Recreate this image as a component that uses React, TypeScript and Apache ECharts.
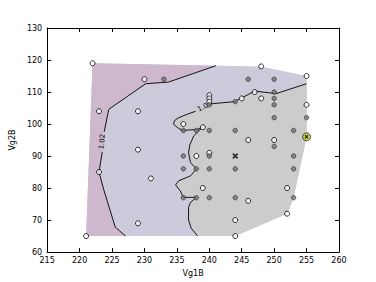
import React, { useEffect, useRef } from "react";
import * as echarts from "echarts";

// Data-space geometry
const hull: number[][] = [[221, 65], [244, 65], [252, 72], [253, 77], [255, 96], [255, 115], [248, 118], [222, 119]];

const c102Lower: number[][] = [[227.1, 65], [225.5, 67.8], [223.7, 79.7], [223, 85], [223.5, 91.3]];
const c102Upper: number[][] = [[223.8, 97.6], [224.5, 104.6], [230.2, 112.6], [233.7, 113.1], [241, 118.2]];

const c100Lower: number[][] = [
  [238.2, 65], [237.2, 67.5], [236.8, 70], [236.8, 74], [237.1, 75.5], [238, 77.1], [236, 77.1],
  [235.5, 79.2], [234.8, 81], [235.3, 82.3], [237.1, 83.8], [238, 86], [237.1, 88], [236.8, 91],
  [237, 93.5], [237.6, 96.3], [239, 99.1], [238.2, 98.3], [235.8, 98], [235.1, 98.9], [234.5, 99.9],
  [234.6, 101], [235.2, 101.9], [236.5, 103], [237.9, 104],
];
const c100Upper: number[][] = [[240.2, 106.3], [243.9, 107], [247, 110.3], [250.3, 109.5], [255, 112.6]];
const grayEdge: number[][] = [[255, 96], [253, 77], [252, 72], [244, 65]];

const openPts: number[][] = [
  [222, 119], [230, 114], [223, 104], [229, 104], [240, 109], [240, 108], [240, 107], [245, 108],
  [247, 110], [248, 118], [255, 115], [248, 108], [255, 106], [236, 100], [239, 99], [246, 95],
  [250, 95], [229, 92], [240, 91], [238, 90], [223, 85], [231, 83], [239, 80], [252, 80], [246, 76],
  [252, 72], [229, 69], [244, 70], [244, 65], [221, 65],
];
const filledPts: number[][] = [
  [233, 114], [246, 114], [250, 114], [244, 107], [240, 106], [250, 110], [250, 108], [250, 106],
  [250, 102], [255, 102], [236, 98], [238, 98], [240, 98], [244, 98], [253, 98], [250, 93],
  [236, 90], [240, 90], [253, 90], [236, 86], [238, 86], [240, 86], [244, 86], [253, 86],
  [236, 77], [238, 77], [240, 77], [244, 77], [253, 77],
];
const crossPt: number[][] = [[244, 90]];
const bestPt: number[][] = [[255, 96]];

const labels = [
  { text: "1.0", at: [239, 105.2], rot: 0.46 },
  { text: "1.02", at: [223.5, 94.5], rot: 1.48 },
];

const xTicks = { min: 215, max: 260, interval: 5 };
const yTicks = { min: 60, max: 130, interval: 10 };

const PINK = "#cdb8cd";
const LAV = "#cdcadb";
const GRAY = "#cccccc";
const FONT = "DejaVu Sans";
const X_PATH = "path://M0,2L2,0L5,3L8,0L10,2L7,5L10,8L8,10L5,7L2,10L0,8L3,5Z";

export default function App() {
  const ref = useRef<HTMLDivElement>(null);
  useEffect(() => {
    if (!ref.current) return;
    const chart = echarts.init(ref.current, null, { renderer: "svg" });
    const pinkPoly = [[221, 65], ...c102Lower, ...c102Upper, [222, 119]];
    const grayPoly = [...c100Lower, ...c100Upper, ...grayEdge];
    const axisCommon = {
      type: "value" as const,
      axisLine: { show: true, lineStyle: { color: "#000", width: 1 } },
      axisTick: { show: true, inside: true, length: 4, lineStyle: { color: "#000" } },
      splitLine: { show: false },
    };
    chart.setOption({
      animation: false,
      grid: { left: 47, right: 37, top: 28, bottom: 29, containLabel: false },
      xAxis: [
        {
          ...axisCommon, position: "bottom", min: xTicks.min, max: xTicks.max, interval: xTicks.interval,
          axisLabel: { color: "#000", fontFamily: FONT, fontSize: 8, margin: 4 },
          name: "Vg1B", nameLocation: "middle", nameGap: 13,
          nameTextStyle: { color: "#000", fontFamily: FONT, fontSize: 8 },
        },
        {
          ...axisCommon, position: "top", min: xTicks.min, max: xTicks.max, interval: xTicks.interval,
          axisLabel: { show: false },
        },
      ],
      yAxis: [
        {
          ...axisCommon, position: "left", min: yTicks.min, max: yTicks.max, interval: yTicks.interval,
          axisLabel: { color: "#000", fontFamily: FONT, fontSize: 8, margin: 5 },
          name: "Vg2B", nameLocation: "middle", nameGap: 22,
          nameTextStyle: { color: "#000", fontFamily: FONT, fontSize: 8 },
        },
        {
          ...axisCommon, position: "right", min: yTicks.min, max: yTicks.max, interval: yTicks.interval,
          axisLabel: { show: false },
        },
      ],
      series: [
        {
          type: "custom",
          coordinateSystem: "cartesian2d",
          silent: true,
          z: 1,
          data: [[240, 90]],
          renderItem: (_p: any, api: any) => {
            const toPts = (arr: number[][]) => arr.map((d) => api.coord(d));
            return {
              type: "group",
              children: [
                { type: "polygon", shape: { points: toPts(hull) }, style: { fill: LAV, stroke: "none" } },
                { type: "polygon", shape: { points: toPts(pinkPoly) }, style: { fill: PINK, stroke: "none" } },
                { type: "polygon", shape: { points: toPts(grayPoly) }, style: { fill: GRAY, stroke: "none" } },
              ],
            };
          },
        },
        ...[c102Lower, c102Upper, c100Lower, c100Upper].map((seg) => ({
          type: "line",
          data: seg,
          showSymbol: false,
          silent: true,
          z: 2,
          lineStyle: { color: "#000", width: 0.9 },
        })),
        {
          type: "custom",
          coordinateSystem: "cartesian2d",
          silent: true,
          z: 3,
          data: labels.map((l) => [l.at[0], l.at[1]]),
          renderItem: (p: any, api: any) => {
            const l = labels[p.dataIndex];
            const c = api.coord([api.value(0), api.value(1)]);
            return {
              type: "text",
              x: c[0], y: c[1], rotation: l.rot,
              style: { text: l.text, fill: "#000", font: `7px "${FONT}"`, align: "center", verticalAlign: "middle" },
            };
          },
        },
        {
          type: "scatter", data: openPts, symbol: "circle", symbolSize: 5, z: 4, silent: true,
          itemStyle: { color: "#fff", borderColor: "#000", borderWidth: 1 },
        },
        {
          type: "scatter", data: filledPts, symbol: "circle", symbolSize: 4.5, z: 4, silent: true,
          itemStyle: { color: "#747474", borderColor: "#2a2a2a", borderWidth: 0.8 },
        },
        {
          type: "scatter", data: crossPt, symbol: X_PATH, symbolSize: 6, z: 5, silent: true,
          itemStyle: { color: "#000" },
        },
        {
          type: "scatter", data: bestPt, symbol: "circle", symbolSize: 8, z: 5, silent: true,
          itemStyle: { color: "#c2cf2e", borderColor: "#000", borderWidth: 0.8 },
        },
        {
          type: "scatter", data: bestPt, symbol: X_PATH, symbolSize: 4, z: 6, silent: true,
          itemStyle: { color: "#000" },
        },
      ],
    });
    return () => chart.dispose();
  }, []);
  return <div ref={ref} style={{ position: "fixed", left: 0, top: 0, width: 376, height: 282, background: "#fff" }} />;
}
